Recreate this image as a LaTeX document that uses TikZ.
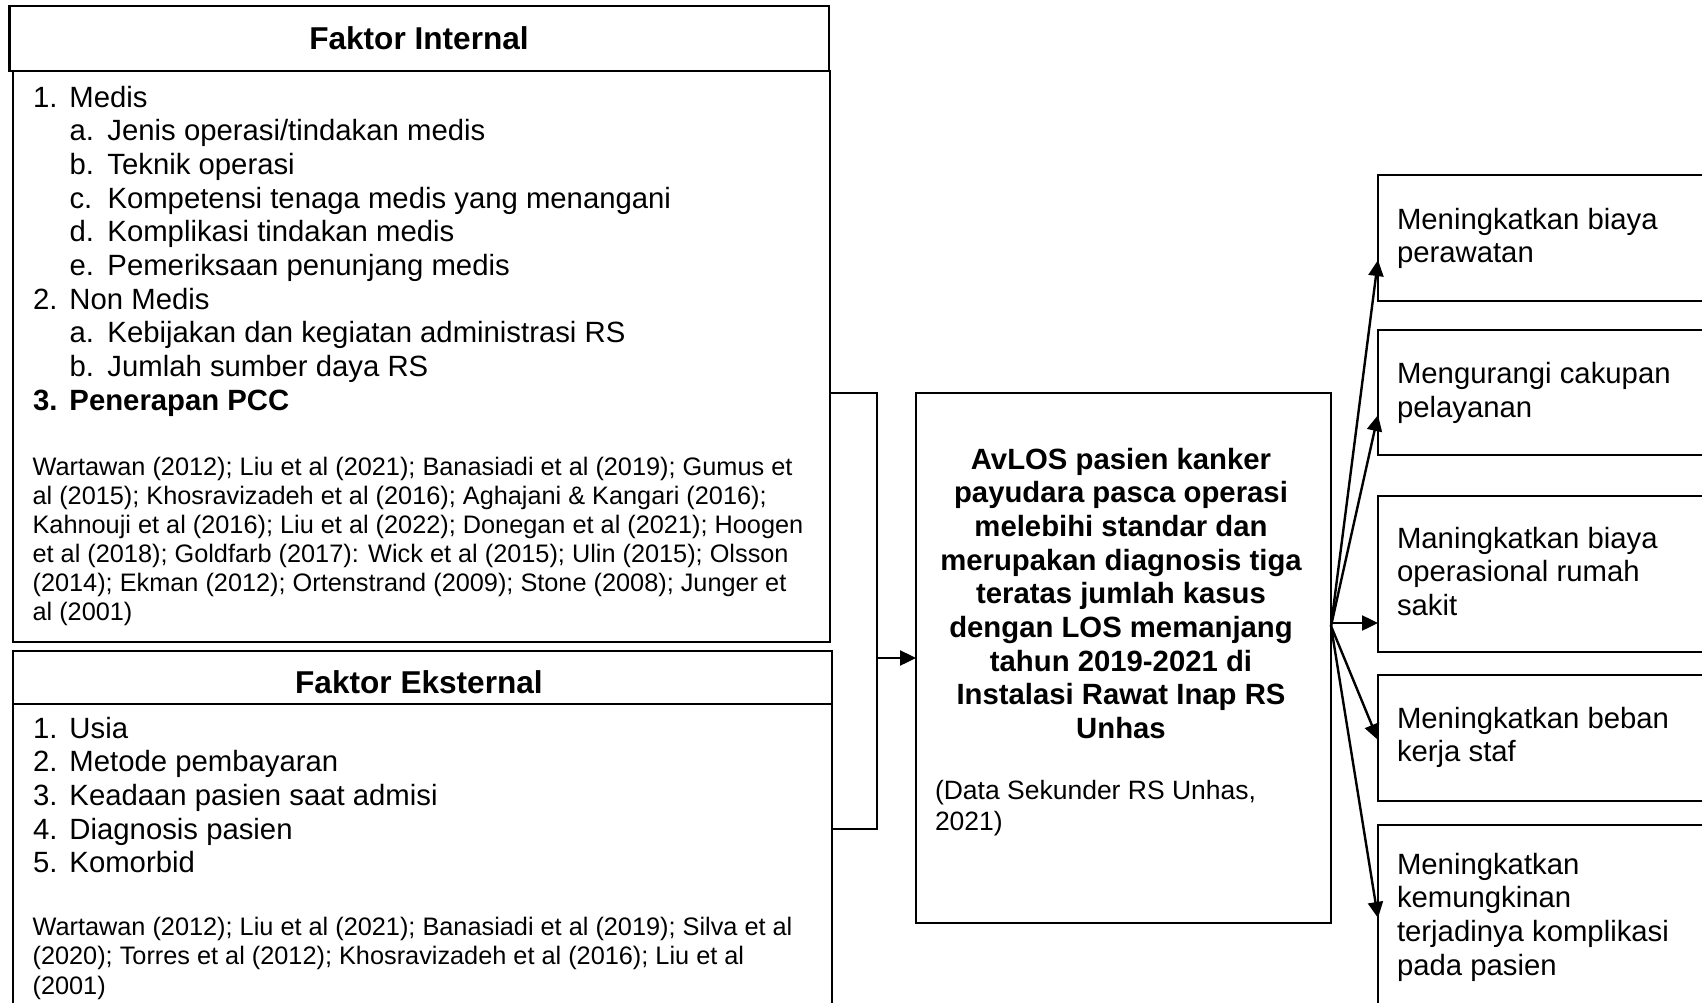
\documentclass[tikz,border=0pt]{standalone}
\usepackage{fontspec}
\setmainfont{Liberation Sans}
\usetikzlibrary{arrows.meta}
\begin{document}
\begin{tikzpicture}[x=1pt,y=-1pt,
  box/.style={draw, line width=2.6pt, anchor=north west, inner sep=0pt, outer sep=0pt},
  ln/.style={line width=2.6pt},
  arr/.style={line width=2.4pt, -{Triangle[length=16pt,width=15pt]}},
  txt/.style={font=\fontsize{29.3}{33.7}\selectfont, inner sep=0pt, outer sep=0pt, anchor=base west, align=left},
  reftxt/.style={font=\fontsize{25.3}{29.1}\selectfont, inner sep=0pt, outer sep=0pt, anchor=base west, align=left},
  notetxt/.style={font=\fontsize{26.5}{31}\selectfont, inner sep=0pt, outer sep=0pt, anchor=base west, align=left},
  ttl/.style={font=\fontsize{31.6}{36}\selectfont\bfseries, inner sep=0pt, outer sep=0pt, anchor=base},
  ctr/.style={font=\fontsize{29.3}{33.7}\selectfont\bfseries, inner sep=0pt, outer sep=0pt, anchor=base, align=center}]
\useasboundingbox (0,0) rectangle (1702,1003);
\clip (0,0) rectangle (1702,1003);
\fill[white] (0,0) rectangle (1702,1003);

% left boxes
\node[box, minimum width=819.5pt, minimum height=65pt] (inttitle) at (9.5,6) {};
\node[box, minimum width=817pt, minimum height=571pt] (intbody) at (13,71) {};
\node[box, minimum width=819pt, minimum height=53pt] (exttitle) at (13,651) {};
\node[box, minimum width=819pt, minimum height=330pt] (extbody) at (13,704) {};

\node[ttl] (inttxt) at (419,50) {Faktor Internal};
\node[ttl] (exttxt) at (419,693) {Faktor Eksternal};

% multi-line nodes: base anchor = baseline of last line
\node[txt] (intlist) at (33,410.3) {%
\makebox[36.5pt][l]{1.}Medis\\
\hspace*{36.5pt}\makebox[38pt][l]{a.}Jenis operasi/tindakan medis\\
\hspace*{36.5pt}\makebox[38pt][l]{b.}Teknik operasi\\
\hspace*{36.5pt}\makebox[38pt][l]{c.}Kompetensi tenaga medis yang menangani\\
\hspace*{36.5pt}\makebox[38pt][l]{d.}Komplikasi tindakan medis\\
\hspace*{36.5pt}\makebox[38pt][l]{e.}Pemeriksaan penunjang medis\\
\makebox[36.5pt][l]{2.}Non Medis\\
\hspace*{36.5pt}\makebox[38pt][l]{a.}Kebijakan dan kegiatan administrasi RS\\
\hspace*{36.5pt}\makebox[38pt][l]{b.}Jumlah sumber daya RS\\
\textbf{\makebox[36.5pt][l]{3.}Penerapan PCC}};

\node[reftxt] (intref) at (32.6,620.5) {%
Wartawan (2012); Liu et al (2021); Banasiadi et al (2019); Gumus et\\
al (2015); Khosravizadeh et al (2016); Aghajani \& Kangari (2016);\\
Kahnouji et al (2016); Liu et al (2022); Donegan et al (2021); Hoogen\\
et al (2018); Goldfarb (2017): Wick et al (2015); Ulin (2015); Olsson\\
(2014); Ekman (2012); Ortenstrand (2009); Stone (2008); Junger et\\
al (2001)};

\node[txt] (extlist) at (33,872.8) {%
\makebox[36.5pt][l]{1.}Usia\\
\makebox[36.5pt][l]{2.}Metode pembayaran\\
\makebox[36.5pt][l]{3.}Keadaan pasien saat admisi\\
\makebox[36.5pt][l]{4.}Diagnosis pasien\\
\makebox[36.5pt][l]{5.}Komorbid};

\node[reftxt] (extref) at (32.6,994) {%
Wartawan (2012); Liu et al (2021); Banasiadi et al (2019); Silva et al\\
(2020); Torres et al (2012); Khosravizadeh et al (2016); Liu et al\\
(2001)};

% central box
\node[box, minimum width=415pt, minimum height=530pt] (main) at (916,393) {};
\node[ctr] (maintxt) at (1121,738.6) {AvLOS pasien kanker\\
payudara pasca operasi\\
melebihi standar dan\\
merupakan diagnosis tiga\\
teratas jumlah kasus\\
dengan LOS memanjang\\
tahun 2019-2021 di\\
Instalasi Rawat Inap RS\\
Unhas};
\node[notetxt] (note) at (935,830) {(Data Sekunder RS Unhas,\\2021)};

% right boxes
\node[box, minimum width=350pt, minimum height=126pt] (r1) at (1378,175) {};
\node[box, minimum width=350pt, minimum height=125pt] (r2) at (1378,330) {};
\node[box, minimum width=350pt, minimum height=156pt] (r3) at (1378,496) {};
\node[box, minimum width=350pt, minimum height=126pt] (r4) at (1378,675) {};
\node[box, minimum width=350pt, minimum height=210pt] (r5) at (1378,825) {};

\node[txt] (r1t) at (1397,262.7) {Meningkatkan biaya\\perawatan};
\node[txt] (r2t) at (1397,417.2) {Mengurangi cakupan\\pelayanan};
\node[txt] (r3t) at (1397,615.4) {Maningkatkan biaya\\operasional rumah\\sakit};
\node[txt] (r4t) at (1397,761.7) {Meningkatkan beban\\kerja staf};
\node[txt] (r5t) at (1397,975.1) {Meningkatkan\\kemungkinan\\terjadinya komplikasi\\pada pasien};

% bracket and arrows
\coordinate (bk) at (877,658);
\draw[ln] ([yshift=-322pt]intbody.north east) -| (bk) |- ([yshift=-125pt]extbody.north east);
\draw[arr] (bk) -- (main.west);

\coordinate (fan) at ([yshift=32pt]main.east);
\draw[arr] (fan) -- ([yshift=-85pt]r1.north west);
\draw[arr] (fan) -- ([yshift=-85pt]r2.north west);
\draw[arr] ([yshift=35pt]main.east) -- ([yshift=-127pt]r3.north west);
\draw[arr] (fan) -- ([yshift=-65pt]r4.north west);
\draw[arr] (fan) -- ([yshift=-93pt]r5.north west);
\end{tikzpicture}
\end{document}
